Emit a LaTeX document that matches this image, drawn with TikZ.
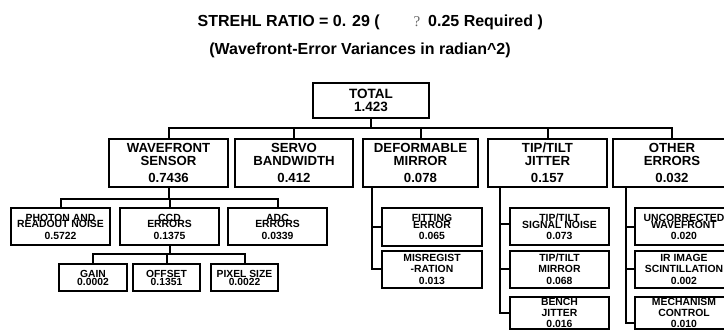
\documentclass[tikz,border=0pt]{standalone}
\usepackage{fontspec}
\setmainfont{Liberation Sans}
\newfontfamily\qfont{Liberation Serif}
\begin{document}
\begin{tikzpicture}[x=1pt,y=-1pt,
  box/.style={draw, line width=2pt, inner sep=0pt, align=center},
  ltot/.style={box, minimum width=116pt, minimum height=35pt, font=\fontsize{13.5}{13}\selectfont\bfseries},
  lone/.style={box, minimum width=119pt, minimum height=48pt, font=\fontsize{13.2}{13}\selectfont\bfseries},
  ltwo/.style={box, minimum width=99pt, minimum height=37pt, font=\fontsize{10.4}{10.5}\selectfont\bfseries},
  lthree/.style={box, minimum width=67pt, minimum height=27pt, font=\fontsize{10.3}{12}\selectfont\bfseries},
  ttl/.style={inner sep=0pt, font=\fontsize{16}{19}\selectfont\bfseries},
  conn/.style={line width=2pt}]
\path[use as bounding box, clip] (0,0) rectangle (724,331);

% titles
\node[ttl, anchor=base east] (t1a) at (380,26.5) {STREHL RATIO = 0. 29 (};
\node[inner sep=0pt, anchor=base, font=\fontsize{15}{18}\selectfont\qfont, text=black!60] (t1q) at (417,26.5) {?};
\node[ttl, anchor=base west] (t1b) at (428,26.5) {0.25 Required )};
\node[ttl, anchor=base] (t2) at (360,54.3) {(Wavefront-Error Variances in radian\textasciicircum 2)};

% total
\node[ltot] (total) at (371,100.5) {TOTAL\\1.423};

% level 1
\node[lone] (ws) at (168.5,163) {WAVEFRONT\\SENSOR\\[4pt]0.7436};
\node[lone, minimum width=118pt] (sb) at (294,163) {SERVO\\BANDWIDTH\\[4pt]0.412};
\node[lone, minimum width=115pt] (dm) at (420.5,163) {DEFORMABLE\\MIRROR\\[4pt]0.078};
\node[lone] (tt) at (547.5,163) {TIP/TILT\\JITTER\\[4pt]0.157};
\node[lone, minimum width=118pt] (oe) at (672,163) {OTHER\\ERRORS\\[4pt]0.032};

% level 2 under wavefront sensor
\node[ltwo] (pr) at (60.5,226.5) {PHOTON AND\\[-4pt]READOUT NOISE\\[1pt]0.5722};
\node[ltwo] (ccd) at (169.5,226.5) {CCD\\[-4pt]ERRORS\\[1pt]0.1375};
\node[ltwo] (adc) at (277.5,226.5) {ADC\\[-4pt]ERRORS\\[1pt]0.0339};

% level 3 under CCD
\node[lthree, minimum width=68pt] (gain) at (93,277.5) {GAIN\\[-4pt]0.0002};
\node[lthree] (off) at (166.5,277.5) {OFFSET\\[-4pt]0.1351};
\node[lthree] (pix) at (244.5,277.5) {PIXEL SIZE\\[-4pt]0.0022};

% deformable mirror children
\node[ltwo, minimum width=100pt, minimum height=38pt] (fe) at (432,227) {FITTING\\[-4pt]ERROR\\[1pt]0.065};
\node[ltwo, minimum width=100pt] (mr) at (432,269.5) {MISREGIST\\-RATION\\[1.5pt]0.013};

% tip/tilt children
\node[ltwo] (tsn) at (559.5,227) {TIP/TILT\\[-4pt]SIGNAL NOISE\\[1pt]0.073};
\node[ltwo] (ttm) at (559.5,269.5) {TIP/TILT\\MIRROR\\[1.5pt]0.068};
\node[ltwo, minimum height=32pt] (bj) at (559.5,313) {BENCH\\JITTER\\[0.5pt]0.016};

% other errors children
\node[ltwo, minimum width=98pt] (uw) at (684,227) {UNCORRECTED\\[-4pt]WAVEFRONT\\[1pt]0.020};
\node[ltwo, minimum width=98pt] (ir) at (684,269.5) {IR IMAGE\\SCINTILLATION\\[1.5pt]0.002};
\node[ltwo, minimum width=98pt, minimum height=32pt] (mc) at (684,313) {MECHANISM\\CONTROL\\[0.5pt]0.010};

% connectors
\coordinate (b1) at (0,128);
\coordinate (b2) at (0,199);
\coordinate (b3) at (0,254);
\draw[conn] (total.south) -- (total.south |- b1);
\draw[conn] (ws.north) |- (oe.north |- b1) -- (oe.north);
\draw[conn] (sb.north) -- (sb.north |- b1);
\draw[conn] (dm.north) -- (dm.north |- b1);
\draw[conn] (tt.north) -- (tt.north |- b1);

\draw[conn] (ws.south) -- (ws.south |- b2);
\draw[conn] (pr.north) |- (adc.north |- b2) -- (adc.north);
\draw[conn] (ccd.north) -- (ccd.north |- b2);

\draw[conn] (ccd.south) -- (ccd.south |- b3);
\draw[conn] (gain.north) |- (pix.north |- b3) -- (pix.north);
\draw[conn] (off.north) -- (off.north |- b3);

\coordinate (dmx) at ([xshift=10pt]dm.south west);
\draw[conn] (dmx) |- (fe.west);
\draw[conn] (dmx) |- (mr.west);

\coordinate (ttx) at ([xshift=13pt]tt.south west);
\draw[conn] (ttx) |- ([yshift=3pt]tsn.west);
\draw[conn] (ttx) |- (ttm.west);
\draw[conn] (ttx) |- (bj.west);

\coordinate (oex) at ([xshift=14pt]oe.south west);
\draw[conn] (oex) |- (uw.west);
\draw[conn] (oex) |- (ir.west);
\draw[conn] (oex) |- ([yshift=-10pt]mc.west);
\end{tikzpicture}
\end{document}
